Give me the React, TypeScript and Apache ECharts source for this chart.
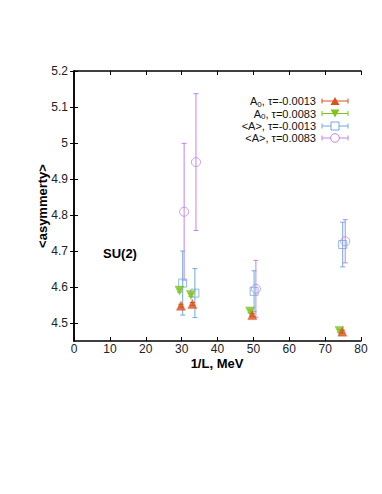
import React, { useEffect, useRef } from "react";
import * as echarts from "echarts";

const xTicks = [0, 10, 20, 30, 40, 50, 60, 70, 80];
const yTicks = [4.5, 4.6, 4.7, 4.8, 4.9, 5.0, 5.1, 5.2];

const a0mX = [29.8, 33.0, 49.7, 74.8];
const a0mY = [4.548, 4.553, 4.522, 4.476];
const a0mErr = [0.004, 0.004, 0.004, 0.004];

const a0pX = [29.4, 32.6, 49.1, 74.0];
const a0pY = [4.59, 4.578, 4.532, 4.478];
const a0pErr = [0.004, 0.004, 0.004, 0.004];

const amX = [30.3, 33.7, 50.2, 74.9];
const amY = [4.611, 4.583, 4.588, 4.718];
const amErr = [0.089, 0.068, 0.057, 0.062];

const apX = [30.7, 34.0, 50.7, 75.6];
const apY = [4.809, 4.947, 4.595, 4.727];
const apErr = [0.19, 0.19, 0.079, 0.06];

const legendLabels = [
  "A{sub|0}, τ=-0.0013",
  "A{sub|0}, τ=0.0083",
  "<A>, τ=-0.0013",
  "<A>, τ=0.0083",
];

const RED = "#d9531e";
const GREEN = "#7fc31c";
const BLUE = "#72a9dc";
const PURPLE = "#c184ec";
const FONT = "Liberation Sans, Arial, sans-serif";

function zip3(xs: number[], ys: number[], es: number[]) {
  return xs.map((x, i) => [x, ys[i], es[i]]);
}

function errSeries(data: number[][], color: string) {
  return {
    type: "custom",
    silent: true,
    data,
    z: 2,
    renderItem: (params: any, api: any) => {
      const x = api.value(0);
      const y = api.value(1);
      const e = api.value(2);
      const top = api.coord([x, y + e]);
      const bot = api.coord([x, y - e]);
      const cw = 2.5;
      const style = { stroke: color, lineWidth: 1 };
      return {
        type: "group",
        children: [
          { type: "line", shape: { x1: top[0], y1: top[1], x2: bot[0], y2: bot[1] }, style },
          { type: "line", shape: { x1: top[0] - cw, y1: top[1], x2: top[0] + cw, y2: top[1] }, style },
          { type: "line", shape: { x1: bot[0] - cw, y1: bot[1], x2: bot[0] + cw, y2: bot[1] }, style },
        ],
      };
    },
  };
}

function scatter(xs: number[], ys: number[], symbol: string, size: number, color: string, filled: boolean, rotate = 0) {
  return {
    type: "scatter",
    data: xs.map((x, i) => [x, ys[i]]),
    symbol,
    symbolSize: size,
    symbolRotate: rotate,
    z: 3,
    itemStyle: filled
      ? { color, borderColor: color, borderWidth: 0.5 }
      : { color: "rgba(0,0,0,0)", borderColor: color, borderWidth: 1 },
  };
}

export default function App() {
  const ref = useRef<HTMLDivElement>(null);
  useEffect(() => {
    if (!ref.current) return;
    const chart = echarts.init(ref.current, undefined, { renderer: "svg" });

    const legendColors = [RED, GREEN, BLUE, PURPLE];
    const legendRowsY = [101, 113.5, 126, 138];
    const graphics: any[] = [];
    legendLabels.forEach((lab, i) => {
      const y = legendRowsY[i];
      const c = legendColors[i];
      graphics.push({
        type: "text",
        x: 316,
        y,
        style: {
          text: lab,
          align: "right",
          verticalAlign: "middle",
          font: `11px ${FONT}`,
          fill: "#111",
          rich: {
            sub: { fontSize: 8, verticalAlign: "bottom", padding: [6, 0, 0, 0], fontFamily: FONT, fill: "#111" },
          },
        },
      });
      const x1 = 322, x2 = 348, xm = 335;
      const ls = { stroke: c, lineWidth: 1 };
      graphics.push({ type: "line", shape: { x1, y1: y, x2, y2: y }, style: ls });
      graphics.push({ type: "line", shape: { x1, y1: y - 2.5, x2: x1, y2: y + 2.5 }, style: ls });
      graphics.push({ type: "line", shape: { x1: x2, y1: y - 2.5, x2, y2: y + 2.5 }, style: ls });
      if (i === 0) {
        graphics.push({ type: "polygon", shape: { points: [[xm - 4.5, y + 4], [xm + 4.5, y + 4], [xm, y - 4]] }, style: { fill: c } });
      } else if (i === 1) {
        graphics.push({ type: "polygon", shape: { points: [[xm - 4.5, y - 4], [xm + 4.5, y - 4], [xm, y + 4]] }, style: { fill: c } });
      } else if (i === 2) {
        graphics.push({ type: "rect", shape: { x: xm - 4, y: y - 4, width: 8, height: 8 }, style: { fill: "#fff", stroke: c, lineWidth: 1 } });
      } else {
        graphics.push({ type: "circle", shape: { cx: xm, cy: y, r: 4.3 }, style: { fill: "#fff", stroke: c, lineWidth: 1 } });
      }
    });
    graphics.push({
      type: "text",
      x: 103,
      y: 253,
      style: { text: "SU(2)", font: `bold 13px ${FONT}`, fill: "#000", verticalAlign: "middle", align: "left" },
    });
    graphics.push({
      type: "text",
      x: 217,
      y: 357,
      style: { text: "1/L, MeV", font: `bold 13px ${FONT}`, fill: "#000", verticalAlign: "top", align: "center" },
    });

    const axisLine = { show: true, lineStyle: { color: "#000", width: 1.5 } };
    const tick = { show: true, inside: true, length: 4, lineStyle: { color: "#000", width: 1 } };
    const labelStyle = { color: "#222", fontSize: 12, fontFamily: FONT };

    chart.setOption({
      animation: false,
      backgroundColor: "#fff",
      grid: { left: 74, right: 21, top: 71, bottom: 153 },
      xAxis: [
        {
          type: "value",
          min: 0,
          max: 80,
          interval: 10,
          position: "bottom",
          axisLine,
          axisTick: tick,
          splitLine: { show: false },
          axisLabel: { ...labelStyle, margin: 2, formatter: (v: number) => (xTicks.includes(v) ? String(v) : "") },
        },
        {
          type: "value",
          min: 0,
          max: 80,
          interval: 10,
          position: "top",
          axisLine,
          axisTick: tick,
          axisLabel: { show: false },
          splitLine: { show: false },
        },
      ],
      yAxis: [
        {
          type: "value",
          min: 4.45,
          max: 5.2,
          position: "left",
          axisLine,
          axisTick: { ...tick, customValues: yTicks },
          splitLine: { show: false },
          axisLabel: {
            ...labelStyle,
            margin: 6,
            customValues: yTicks,
            formatter: (v: number) => String(Math.round(v * 10) / 10),
          },
          name: "<asymmerty>",
          nameLocation: "middle",
          nameGap: 32,
          nameMoveOverlap: false,
          nameTextStyle: { fontSize: 13, fontWeight: "bold", color: "#000", fontFamily: FONT, verticalAlign: "middle" },
        },
        {
          type: "value",
          min: 4.45,
          max: 5.2,
          position: "right",
          axisLine,
          axisTick: { ...tick, customValues: yTicks },
          axisLabel: { show: false },
          splitLine: { show: false },
        },
      ],
      graphic: graphics,
      series: [
        errSeries(zip3(apX, apY, apErr), PURPLE),
        errSeries(zip3(amX, amY, amErr), BLUE),
        errSeries(zip3(a0pX, a0pY, a0pErr), GREEN),
        errSeries(zip3(a0mX, a0mY, a0mErr), RED),
        scatter(apX, apY, "circle", 9, PURPLE, false),
        scatter(amX, amY, "rect", 8, BLUE, false),
        scatter(a0pX, a0pY, "triangle", 9, GREEN, true, 180),
        scatter(a0mX, a0mY, "triangle", 9, RED, true),
      ],
    });
    return () => chart.dispose();
  }, []);
  return <div ref={ref} style={{ width: 382, height: 494, position: "absolute", left: 0, top: 0 }} />;
}
